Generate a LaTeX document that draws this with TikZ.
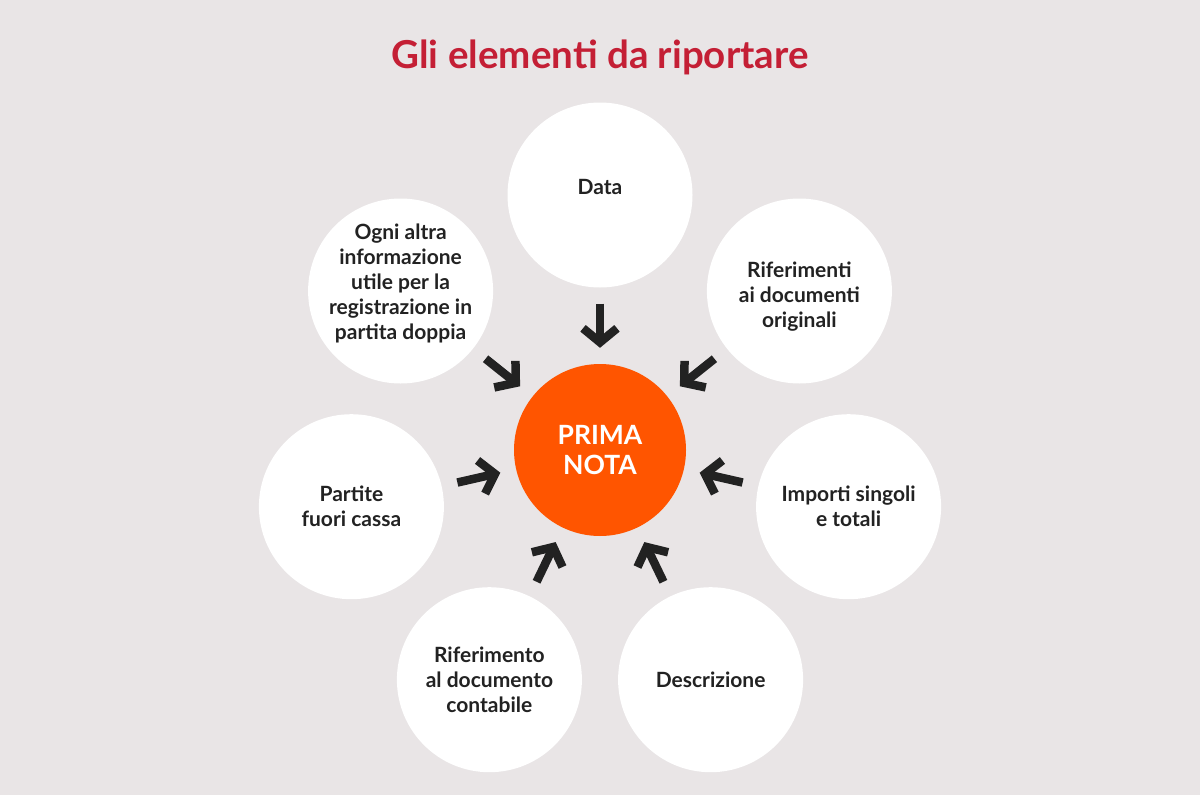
\documentclass[tikz,border=0pt]{standalone}
\usepackage{fontspec}
\setmainfont{Lato}
\usetikzlibrary{arrows.meta}
\definecolor{bg}{HTML}{E9E5E6}
\definecolor{titlered}{HTML}{C41F35}
\definecolor{core}{HTML}{FF5500}
\definecolor{ink}{HTML}{222222}
\begin{document}
\begin{tikzpicture}[x=1pt,y=-1pt,
  outer/.style={circle,fill=white,minimum size=185pt,inner sep=0pt},
  txt/.style={align=center,inner sep=0pt,
    font=\fontsize{21}{25}\selectfont\bfseries,text=ink},
  core/.style={circle,fill=core,minimum size=172pt,inner sep=0pt,align=center,
    font=\fontsize{26.5}{30}\selectfont\bfseries,text=white},
  arr/.style={line width=8.5pt,draw=ink,
    -{Straight Barb[sharp,length=14pt,width=34pt]},shorten <=16pt,shorten >=16pt}]
\fill[bg] (0,0) rectangle (1200,795);
\useasboundingbox (0,0) rectangle (1200,795);
\node[font=\fontsize{38.5}{44}\selectfont\bfseries,text=titlered] (title) at (600,57) {Gli elementi da riportare};
\node[core] (c) at (600,450) {PRIMA\\NOTA};
\node[outer] (o0) at (600,195) {};
\node[outer] (o1) at (799.4,291) {};
\node[outer] (o2) at (848.6,506.7) {};
\node[outer] (o3) at (710.6,679.7) {};
\node[outer] (o4) at (489.4,679.7) {};
\node[outer] (o5) at (351.4,506.7) {};
\node[outer] (o6) at (400.6,291) {};
\node[txt,yshift=8pt] (t0) at (o0) {Data};
\node[txt,yshift=-6pt] (t1) at (o1) {Riferimenti\\ai documenti\\originali};
\node[txt] (t2) at (o2) {Importi singoli\\e totali};
\node[txt] (t3) at (o3) {Descrizione};
\node[txt] (t4) at (o4) {Riferimento\\al documento\\contabile};
\node[txt] (t5) at (o5) {Partite\\fuori cassa};
\node[txt,yshift=8pt] (t6) at (o6) {Ogni altra\\informazione\\utile per la\\registrazione in\\partita doppia};
\foreach \i in {0,...,6} {\draw[arr] (o\i) -- (c);}
\end{tikzpicture}
\end{document}
